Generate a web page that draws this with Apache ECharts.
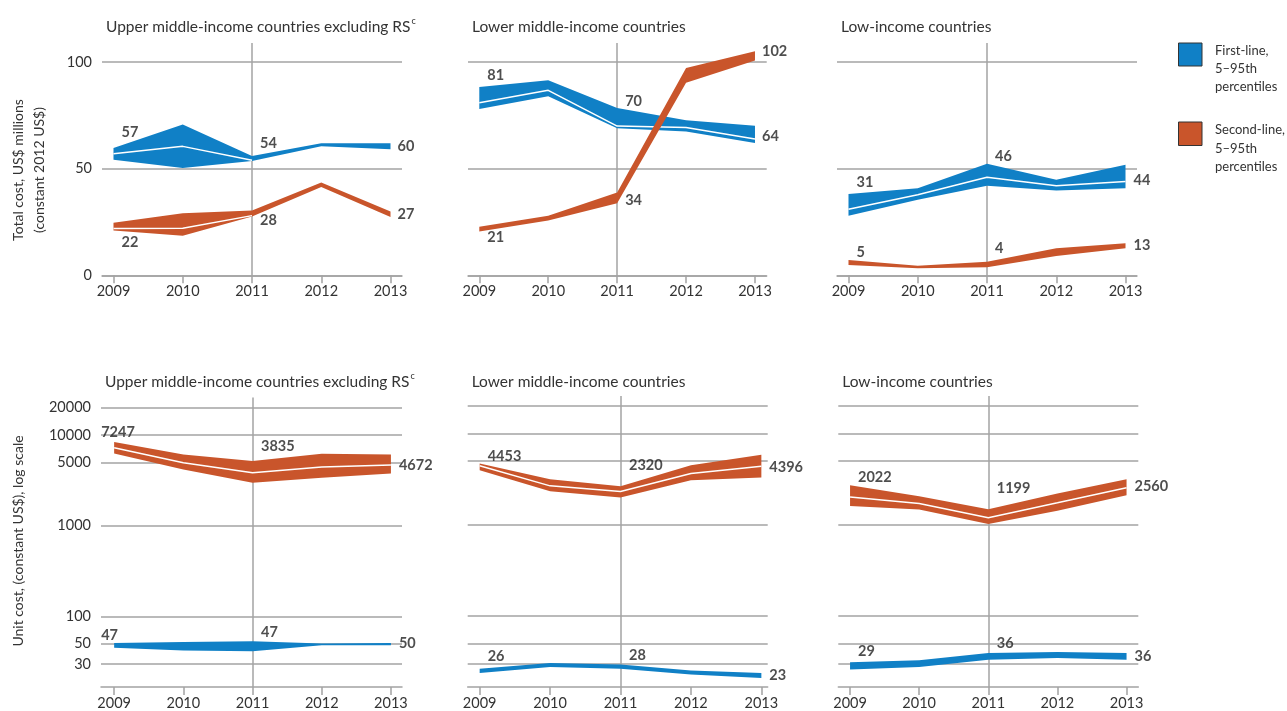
<!DOCTYPE html>
<html>
<head>
<meta charset="utf-8">
<script src="https://cdn.jsdelivr.net/npm/echarts@6/dist/echarts.min.js"></script>
<style>
  html, body { margin: 0; padding: 0; background: #fff; }
  #chart { width: 1287px; height: 711px; }
</style>
</head>
<body>
<div id="chart"></div>
<script>
// ---- data -------------------------------------------------------------
const years = [2009, 2010, 2011, 2012, 2013];
const panelTitles = ['Upper middle-income countries excluding RS', 'Lower middle-income countries', 'Low-income countries'];
const titleNotes = ['c', '', ''];
const totalTicks = [0, 50, 100];
const unitTicks = [30, 50, 100, 1000, 5000, 10000, 20000];
const totalAxisName = 'Total cost, US$ millions\n(constant 2012 US$)';
const unitAxisName = 'Unit cost, (constant US$), log scale';
const legendNames = ['First-line,\n5–95th\npercentiles', 'Second-line,\n5–95th\npercentiles'];
const markedYear = 2011;

// Total cost, US$ millions (constant 2012 US$): 5th / 95th percentiles, central line, labelled values
// first-line (FL) and second-line (SL) regimens
const umicTotalFL5 = [54.2, 50.3, 53.6, 60.5, 59.2];
const umicTotalFL95 = [59.7, 70.7, 56.0, 62.0, 62.0];
const umicTotalFLMid = [57, 60.5, 54, null, null];
const umicTotalFLLabels = [57, null, 54, null, 60];
const umicTotalSL5 = [21.0, 18.5, 27.6, 41.4, 27.3];
const umicTotalSL95 = [24.7, 29.1, 30.4, 43.5, 29.9];
const umicTotalSLMid = [22, 22.1, 28, null, null];
const umicTotalSLLabels = [22, null, 28, null, 27];

const lmicTotalFL5 = [78.0, 84.0, 69.0, 67.5, 62.1];
const lmicTotalFL95 = [88.4, 91.5, 78.5, 72.7, 70.2];
const lmicTotalFLMid = [81, 86.8, 70, 69.4, 64];
const lmicTotalFLLabels = [81, null, 70, null, 64];
const lmicTotalSL5 = [20.6, 25.7, 33.8, 90.3, 100.8];
const lmicTotalSL95 = [22.8, 27.9, 38.8, 97.3, 105.1];
const lmicTotalSLMid = [null, null, null, null, null];
const lmicTotalSLLabels = [21, null, 34, null, 102];

const licTotalFL5 = [27.9, 35.4, 42.0, 39.8, 40.9];
const licTotalFL95 = [38.2, 40.9, 52.3, 44.8, 51.9];
const licTotalFLMid = [31, 37.8, 46, 42, 44];
const licTotalFLLabels = [31, null, 46, null, 44];
const licTotalSL5 = [4.8, 3.3, 3.8, 9.1, 12.7];
const licTotalSL95 = [7.2, 4.5, 6.4, 12.7, 15.0];
const licTotalSLMid = [null, null, null, null, null];
const licTotalSLLabels = [5, null, 4, null, 13];

// Unit cost (constant US$)
const umicUnitFL5 = [45.1, 42.2, 41.4, 48.2, 48.2];
const umicUnitFL95 = [51.1, 52.4, 53.3, 50.3, 51.1];
const umicUnitFLMid = [null, null, null, null, null];
const umicUnitFLLabels = [47, null, 47, null, 50];
const umicUnitSL5 = [6252, 4178, 2985, 3388, 3776];
const umicUnitSL95 = [8386, 6100, 5155, 6195, 6100];
const umicUnitSLMid = [7247, 4945, 3835, 4438, 4672];
const umicUnitSLLabels = [7247, null, 3835, null, 4672];

const lmicUnitFL5 = [23.8, 27.7, 26.4, 22.9, 21.0];
const lmicUnitFL95 = [26.4, 30.6, 29.4, 25.3, 23.8];
const lmicUnitFLMid = [null, null, null, null, null];
const lmicUnitFLLabels = [26, null, 28, null, 23];
const lmicUnitSL5 = [3974, 2344, 1998, 3090, 3304];
const lmicUnitSL95 = [4698, 3170, 2655, 4508, 5888];
const lmicUnitSLMid = [4453, 2680, 2320, 3656, 4396];
const lmicUnitSLLabels = [4453, null, 2320, null, 4396];

const licUnitFL5 = [25.9, 27.7, 33.3, 34.8, 33.3];
const licUnitFL95 = [31.2, 32.8, 39.4, 40.5, 39.4];
const licUnitFLMid = [null, null, null, null, null];
const licUnitFLLabels = [29, null, 36, null, 36];
const licUnitSL5 = [1607, 1476, 1020, 1429, 2118];
const licUnitSL95 = [2724, 2065, 1489, 2208, 3170];
const licUnitSLMid = [2022, 1718, 1199, 1746, 2560];
const licUnitSLLabels = [2022, null, 1199, null, 2560];

// ---- styling ------------------------------------------------------------
const BLUE = '#1080c6';
const ORANGE = '#c9552b';
const GRID_GRAY = '#a3a3a3';
const TEXT = '#333333';
const FONT = "Lato, 'Open Sans', sans-serif";

const panels = [
  { row: 0, col: 0, fl: [umicTotalFL5, umicTotalFL95, umicTotalFLMid, umicTotalFLLabels], sl: [umicTotalSL5, umicTotalSL95, umicTotalSLMid, umicTotalSLLabels] },
  { row: 0, col: 1, fl: [lmicTotalFL5, lmicTotalFL95, lmicTotalFLMid, lmicTotalFLLabels], sl: [lmicTotalSL5, lmicTotalSL95, lmicTotalSLMid, lmicTotalSLLabels] },
  { row: 0, col: 2, fl: [licTotalFL5, licTotalFL95, licTotalFLMid, licTotalFLLabels], sl: [licTotalSL5, licTotalSL95, licTotalSLMid, licTotalSLLabels] },
  { row: 1, col: 0, fl: [umicUnitFL5, umicUnitFL95, umicUnitFLMid, umicUnitFLLabels], sl: [umicUnitSL5, umicUnitSL95, umicUnitSLMid, umicUnitSLLabels] },
  { row: 1, col: 1, fl: [lmicUnitFL5, lmicUnitFL95, lmicUnitFLMid, lmicUnitFLLabels], sl: [lmicUnitSL5, lmicUnitSL95, lmicUnitSLMid, lmicUnitSLLabels] },
  { row: 1, col: 2, fl: [licUnitFL5, licUnitFL95, licUnitFLMid, licUnitFLLabels], sl: [licUnitSL5, licUnitSL95, licUnitSLMid, licUnitSLLabels] }
];

// plot areas and horizontal extents of each panel
const frames = [
  { left: 102, width: 300, top: 43, height: 232.3, xMin: 2008.834, xMax: 2013.166 },
  { left: 468, width: 298.7, top: 43, height: 232.3, xMin: 2008.836, xMax: 2013.17 },
  { left: 837, width: 300, top: 43, height: 232.3, xMin: 2008.834, xMax: 2013.166 },
  { left: 101, width: 301, top: 397.5, height: 292, xMin: 2008.81, xMax: 2013.16 },
  { left: 467.7, width: 300, top: 396, height: 291.3, xMin: 2008.83, xMax: 2013.09 },
  { left: 838.3, width: 300, top: 396, height: 291.3, xMin: 2008.83, xMax: 2013.17 }
];

// label nudges [dx, dy] in px, per panel, per regimen, per year index
const nudges = [
  { fl: { 0: [8, -21], 2: [8, -17], 4: [7, -1] }, sl: { 0: [8, 14], 2: [8, 5], 4: [7, -3.5] } },
  { fl: { 0: [8, -27], 2: [8, -24.6], 4: [7, -2.4] }, sl: { 0: [8, 7], 2: [8, -3], 4: [7, -6.5] } },
  { fl: { 0: [8, -26.6], 2: [8, -20.7], 4: [8, -0.7] }, sl: { 0: [8, -12], 2: [8, -18.5], 4: [8, -2] } },
  { fl: { 0: [-13, -10.6], 2: [8.5, -14.3], 4: [8, 0] }, sl: { 0: [-13, -15.4], 2: [8.5, -26.7], 4: [8, 0] } },
  { fl: { 0: [8, -13], 2: [8.5, -11], 4: [8, 1.3] }, sl: { 0: [8, -9.4], 2: [8.5, -26], 4: [8, 1.3] } },
  { fl: { 0: [8, -14], 2: [8.5, -13.7], 4: [8, 0] }, sl: { 0: [8, -20], 2: [8.5, -29.3], 4: [8, -1] } }
];

const grids = [], xAxes = [], yAxes = [], series = [], titles = [];

panels.forEach((p, i) => {
  const f = frames[i];
  grids.push({ left: f.left, top: f.top, width: f.width, height: f.height });

  xAxes.push({
    type: 'value', gridIndex: i, min: f.xMin, max: f.xMax,
    axisLine: { show: true, lineStyle: { color: GRID_GRAY, width: 1.5 } },
    axisTick: { show: true, customValues: years, length: 8, lineStyle: { color: GRID_GRAY, width: 1.5 } },
    axisLabel: { customValues: years, color: TEXT, fontSize: 14.5, margin: 9, fontFamily: FONT, formatter: v => String(v) },
    splitLine: { show: false }
  });

  if (p.row === 0) {
    yAxes.push({ type: 'value', gridIndex: i, min: 0, max: 109, show: false });
  } else {
    yAxes.push({ type: 'log', logBase: 10, gridIndex: i, min: 16.7, max: 25900, show: false });
  }

  const ticks = p.row === 0 ? totalTicks : unitTicks;
  const gridLines = ticks.map(v => ({ yAxis: v, label: { show: p.col === 0 } }));
  gridLines.push({ xAxis: markedYear, label: { show: false } });

  const band = (vals, key, color, zBase) => {
    const [lo, hi, mid, labels] = vals;
    // 5–95th percentile band as one polygon through the axis scales
    const bandSeries = {
      type: 'custom', xAxisIndex: i, yAxisIndex: i, z: zBase,
      silent: true, animation: false,
      encode: { x: 0, y: [1, 2] },
      data: years.map((y, k) => [y, lo[k], hi[k]]),
      renderItem: (params, api) => {
        if (params.dataIndex !== 0) return { type: 'group', children: [] };
        const upper = years.map((y, k) => api.coord([y, hi[k]]));
        const lower = years.map((y, k) => api.coord([y, lo[k]])).reverse();
        return {
          type: 'polygon',
          shape: { points: upper.concat(lower) },
          style: { fill: color, stroke: null }
        };
      }
    };
    if (key === 'fl') {
      bandSeries.markLine = {
        silent: true, animation: false, symbol: ['none', 'none'], z: 1,
        lineStyle: { color: GRID_GRAY, width: 1.5, type: 'solid' },
        label: { position: 'start', distance: 10, color: TEXT, fontSize: 14.5, fontFamily: FONT, formatter: m => String(m.value) },
        emphasis: { disabled: true },
        data: gridLines
      };
    }
    series.push(bandSeries);
    series.push({
      type: 'line', xAxisIndex: i, yAxisIndex: i, z: zBase + 1,
      symbol: 'none', silent: true, animation: false,
      lineStyle: { color: '#ffffff', width: 1.5 },
      data: years.map((y, k) => [y, mid[k]])
    });
    const labelData = [];
    labels.forEach((v, k) => {
      if (v === null) return;
      const n = nudges[i][key][k] || [8, 0];
      labelData.push({ value: [years[k], v], label: { offset: n } });
    });
    series.push({
      type: 'scatter', xAxisIndex: i, yAxisIndex: i, z: 10,
      symbol: 'circle', symbolSize: 1, silent: true, animation: false,
      itemStyle: { color: 'rgba(0,0,0,0)' },
      label: {
        show: true, position: 'inside', align: 'left', verticalAlign: 'middle',
        color: '#222', fontSize: 14.5, fontWeight: 'bold', fontFamily: FONT,
        formatter: d => String(d.value[1])
      },
      data: labelData
    });
  };

  band(p.fl, 'fl', BLUE, 2);
  band(p.sl, 'sl', ORANGE, 4);

  titles.push({
    left: f.left - 1, top: p.row === 0 ? 12 : 366.5,
    text: '{t|' + panelTitles[p.col] + '}' + (titleNotes[p.col] ? '{s|' + titleNotes[p.col] + '}' : ''),
    textStyle: {
      fontWeight: 'normal',
      rich: {
        t: { fontSize: 15.5, color: TEXT, fontFamily: FONT, fontWeight: 'normal', lineHeight: 20 },
        s: { fontSize: 9, color: TEXT, fontFamily: FONT, fontWeight: 'normal', verticalAlign: 'top', padding: [0, 0, 0, 1] }
      }
    }
  });
});

const graphic = [
  {
    type: 'text', x: 28.5, y: 170, rotation: Math.PI / 2,
    style: { text: totalAxisName, align: 'center', verticalAlign: 'middle', fill: TEXT, fontSize: 14, fontFamily: FONT, lineHeight: 21 }
  },
  {
    type: 'text', x: 18.5, y: 541, rotation: Math.PI / 2,
    style: { text: unitAxisName, align: 'center', verticalAlign: 'middle', fill: TEXT, fontSize: 14, fontFamily: FONT }
  },
  { type: 'rect', shape: { x: 1178.5, y: 43, width: 23.5, height: 23 }, style: { fill: BLUE, stroke: '#333', lineWidth: 1 } },
  { type: 'rect', shape: { x: 1178.5, y: 122, width: 23.5, height: 23.5 }, style: { fill: ORANGE, stroke: '#333', lineWidth: 1 } },
  {
    type: 'text', x: 1215, y: 41.5,
    style: { text: legendNames[0], fill: TEXT, fontSize: 13, fontFamily: FONT, lineHeight: 18.3, verticalAlign: 'top' }
  },
  {
    type: 'text', x: 1215, y: 121,
    style: { text: legendNames[1], fill: TEXT, fontSize: 13, fontFamily: FONT, lineHeight: 18.3, verticalAlign: 'top' }
  }
];

const chart = echarts.init(document.getElementById('chart'), null, { renderer: 'canvas' });
chart.setOption({
  animation: false,
  backgroundColor: '#ffffff',
  title: titles,
  grid: grids,
  xAxis: xAxes,
  yAxis: yAxes,
  series: series,
  graphic: graphic
});
</script>
</body>
</html>
